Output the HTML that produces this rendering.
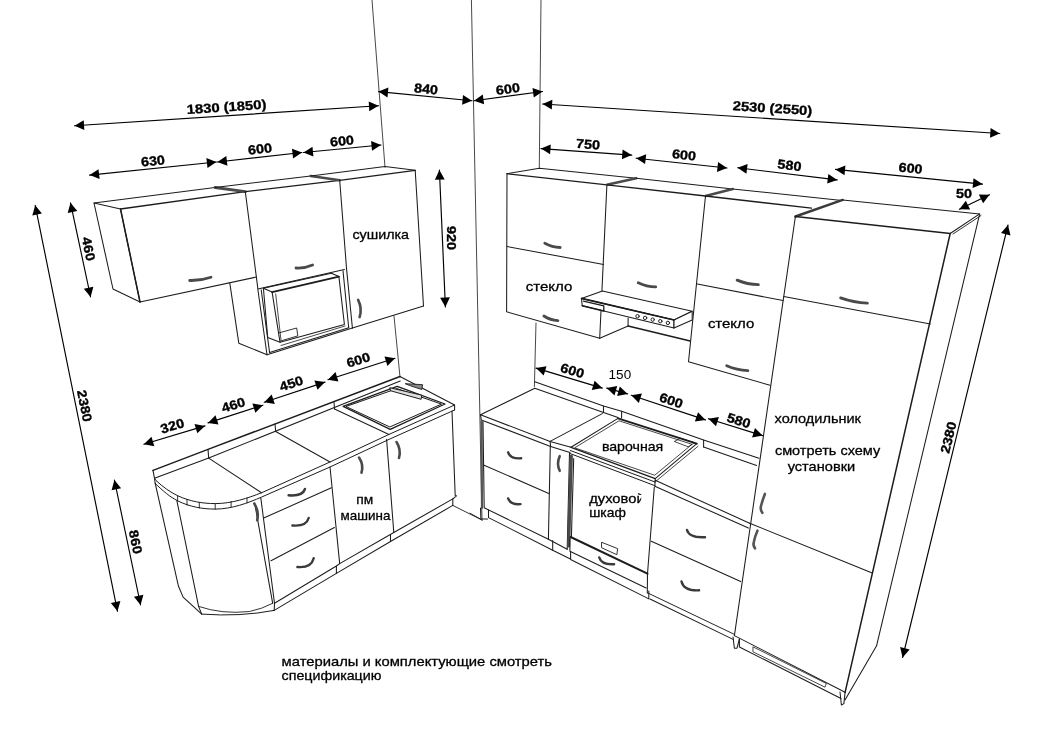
<!DOCTYPE html>
<html><head><meta charset="utf-8"><title>kitchen</title>
<style>
html,body{margin:0;padding:0;background:#fff;}
body{width:1037px;height:735px;overflow:hidden;}
svg{display:block;}
text{font-family:"Liberation Sans",sans-serif;fill:#000;}
text.lb{stroke:#000;stroke-width:0.3px;}
svg{filter:grayscale(1);}
</style></head><body>
<svg width="1037" height="735" viewBox="0 0 1037 735" stroke-linecap="round" stroke-linejoin="round">
<rect width="1037" height="735" fill="#fff"/>
<path d="M372.0 0.0 L385.0 167.0" stroke="#333" stroke-width="0.9" fill="none" />
<path d="M394.0 316.0 L400.0 377.0" stroke="#333" stroke-width="0.9" fill="none" />
<path d="M471.4 0.0 L482.0 520.0" stroke="#333" stroke-width="0.9" fill="none" />
<path d="M541.0 0.0 L539.3 168.0" stroke="#333" stroke-width="0.9" fill="none" />
<path d="M536.0 323.0 L534.4 386.5" stroke="#333" stroke-width="0.9" fill="none" />
<path d="M94.0 203.0 L120.5 209.0 L140.0 302.0 L113.0 289.0 Z" stroke="#1c1c1c" stroke-width="1.05" fill="none" />
<path d="M120.5 209.0 L140.0 302.0" stroke="#1c1c1c" stroke-width="1.5" fill="none" />
<path d="M94.0 203.0 L215.0 187.5" stroke="#1c1c1c" stroke-width="1.05" fill="none" />
<path d="M120.5 209.0 L245.3 191.7" stroke="#1c1c1c" stroke-width="1.3" fill="none" />
<path d="M140.0 302.0 L256.2 277.1" stroke="#1c1c1c" stroke-width="1.05" fill="none" />
<path d="M189.7 280.5 Q200.7 280.8 211.0 277.2" fill="none" stroke="#4a4a4a" stroke-width="2.8"/>
<path d="M215.0 187.5 L245.3 191.7" stroke="#4a4a4a" stroke-width="2.8" fill="none" />
<path d="M215.0 187.5 L310.7 176.0" stroke="#1c1c1c" stroke-width="1.05" fill="none" />
<path d="M245.3 191.7 L339.7 180.3" stroke="#1c1c1c" stroke-width="1.3" fill="none" />
<path d="M245.3 191.7 L257.9 288.9" stroke="#1c1c1c" stroke-width="1.05" fill="none" />
<path d="M257.9 288.9 L344.4 269.4" stroke="#1c1c1c" stroke-width="1.05" fill="none" />
<path d="M296.0 268.0 Q304.7 268.5 312.6 265.0" fill="none" stroke="#4a4a4a" stroke-width="2.8"/>
<path d="M310.7 176.0 L339.7 180.3" stroke="#4a4a4a" stroke-width="2.6" fill="none" />
<path d="M310.7 176.0 L385.0 166.5 L415.2 170.3" stroke="#1c1c1c" stroke-width="1.05" fill="none" />
<path d="M339.7 180.3 L415.2 170.3" stroke="#1c1c1c" stroke-width="1.3" fill="none" />
<path d="M415.2 170.3 L423.5 306.0" stroke="#1c1c1c" stroke-width="1.05" fill="none" />
<path d="M339.7 180.3 L346.6 269.4 L352.4 328.0" stroke="#1c1c1c" stroke-width="1.05" fill="none" />
<path d="M352.4 328.0 L423.5 306.0" stroke="#1c1c1c" stroke-width="1.05" fill="none" />
<path d="M358.1 299.8 Q362.4 308.1 359.6 317.1" fill="none" stroke="#4a4a4a" stroke-width="2.6"/>
<path d="M229.8 283.1 L238.8 343.2 L267.0 354.7" stroke="#1c1c1c" stroke-width="1.05" fill="none" />
<path d="M257.9 289.7 L267.0 354.7" stroke="#1c1c1c" stroke-width="1.05" fill="none" />
<path d="M261.2 289.7 L269.6 352.6" stroke="#1c1c1c" stroke-width="1.05" fill="none" />
<path d="M267.0 354.7 L352.4 328.0" stroke="#1c1c1c" stroke-width="1.05" fill="none" />
<path d="M269.6 352.6 L348.7 327.7" stroke="#1c1c1c" stroke-width="1.05" fill="none" />
<path d="M343.0 270.8 L348.7 327.7" stroke="#1c1c1c" stroke-width="1.05" fill="none" />
<path d="M263.4 288.2 L331.4 273.3 L338.9 276.6" stroke="#1c1c1c" stroke-width="1.05" fill="none" />
<path d="M263.4 288.2 L272.1 292.1" stroke="#1c1c1c" stroke-width="1.05" fill="none" />
<path d="M272.1 292.1 L338.9 276.6" stroke="#1c1c1c" stroke-width="1.8" fill="none" />
<path d="M272.1 292.1 L280.0 342.2 L344.4 324.4 L338.9 276.6" stroke="#1c1c1c" stroke-width="1.05" fill="none" />
<path d="M275.7 294.0 L281.0 340.0" stroke="#1c1c1c" stroke-width="0.8" fill="none" />
<path d="M263.4 288.2 L267.7 337.4 L280.0 342.2" stroke="#1c1c1c" stroke-width="1.05" fill="none" />
<path d="M279.3 332.8 L296.7 328.0 L297.8 335.9 L280.5 341.0" stroke="#1c1c1c" stroke-width="0.9" fill="none" />
<path d="M281.0 345.5 L345.0 326.0" stroke="#1c1c1c" stroke-width="0.8" fill="none" />
<path d="M153.0 470.4 L208.0 449.4 L400.0 376.5" stroke="#1c1c1c" stroke-width="1.5" fill="none" />
<path d="M153.0 470.4 L154.5 478.3" stroke="#1c1c1c" stroke-width="1.05" fill="none" />
<path d="M154.5 478.3 L208.7 458.1 L400.2 381.0" stroke="#1c1c1c" stroke-width="1.05" fill="none" />
<path d="M208.0 449.4 L208.7 458.1" stroke="#1c1c1c" stroke-width="1.05" fill="none" />
<path d="M275.0 424.0 L275.7 431.5" stroke="#1c1c1c" stroke-width="1.05" fill="none" />
<path d="M334.0 402.5 L334.5 409.0" stroke="#1c1c1c" stroke-width="1.05" fill="none" />
<path d="M154.5 478.3 L155.2 483.4" stroke="#1c1c1c" stroke-width="1.05" fill="none" />
<path d="M154.5 478.3 L156 480.5 C163 487 170 492 177.6 495.7 C190 501.5 203 503.6 215.2 503.6 C232 503.6 248 498 261.5 492.8 L330 462 L389 434.4 L454.6 405" stroke="#1c1c1c" stroke-width="1.0" fill="none"/>
<path d="M155.2 483.4 C163 491 170 497 177.6 500.8 C190 507 203 509.1 215.2 509.1 C232 509 248 503 261.5 497.1 L330 467 L389 439.4 L454.6 410" stroke="#1c1c1c" stroke-width="1.0" fill="none"/>
<path d="M177.6 495.7 L177.6 500.8" stroke="#1c1c1c" stroke-width="0.9" fill="none" />
<path d="M187.0 499.5 L187.0 505.0" stroke="#1c1c1c" stroke-width="0.9" fill="none" />
<path d="M199.3 502.5 L199.3 508.0" stroke="#1c1c1c" stroke-width="0.9" fill="none" />
<path d="M215.2 503.6 L215.2 509.1" stroke="#1c1c1c" stroke-width="0.9" fill="none" />
<path d="M231.1 501.5 L231.1 506.8" stroke="#1c1c1c" stroke-width="0.9" fill="none" />
<path d="M247.0 497.9 L247.0 502.9" stroke="#1c1c1c" stroke-width="0.9" fill="none" />
<path d="M400.0 376.5 L454.6 405.0 L454.6 410.0" stroke="#1c1c1c" stroke-width="1.05" fill="none" />
<path d="M208.7 458.1 L261.5 492.8" stroke="#1c1c1c" stroke-width="1.05" fill="none" />
<path d="M275.7 431.5 L330.0 462.0" stroke="#1c1c1c" stroke-width="1.05" fill="none" />
<path d="M334.5 409.0 L389.0 434.4" stroke="#1c1c1c" stroke-width="1.05" fill="none" />
<path d="M343.1 406.3 L397.2 386.3 L445.0 404.0 L390.2 429.4 Z" stroke="#1c1c1c" stroke-width="1.3" fill="none" />
<path d="M346.3 406.4 L397.0 388.6 L441.5 404.1 L390.2 426.8 Z" stroke="#1c1c1c" stroke-width="1.0" fill="none" />
<path d="M390.2 387.8 L421.8 395.2 L421.1 399.3 L390.7 390.8 Z" stroke="#1c1c1c" stroke-width="1.0" fill="#ddd"/>
<path d="M405.6 383.7 L422.6 384.7 L421.8 389.5 L411.0 386.0 Z" stroke="#1c1c1c" stroke-width="0.9" fill="#888"/>
<path d="M155.2 483.4 L178.5 586.3 L183.1 597.1 L201.7 614.1" stroke="#1c1c1c" stroke-width="1.05" fill="none" />
<path d="M176.9 500.8 L198.6 606.4 L201.7 614.1" stroke="#1c1c1c" stroke-width="1.05" fill="none" />
<path d="M201.7 614.1 Q240 617 274.2 610.4" stroke="#1c1c1c" stroke-width="1.0" fill="none"/>
<path d="M198.6 606.4 Q222 614.5 249.5 611.5 Q262 609 272.7 603.3" stroke="#1c1c1c" stroke-width="0.9" fill="none"/>
<path d="M254.6 502.9 L272.7 603.3" stroke="#1c1c1c" stroke-width="1.05" fill="none" />
<path d="M254.3 503.6 Q259.3 511.3 257.2 520.3" fill="none" stroke="#4a4a4a" stroke-width="2.6"/>
<path d="M260.8 497.9 L274.5 603.3 L274.2 610.4" stroke="#1c1c1c" stroke-width="1.05" fill="none" />
<path d="M263.7 518.1 L331.4 487.8" stroke="#1c1c1c" stroke-width="1.05" fill="none" />
<path d="M271.0 560.7 L334.4 527.5" stroke="#1c1c1c" stroke-width="1.05" fill="none" />
<path d="M330.0 467.0 L339.7 563.6" stroke="#1c1c1c" stroke-width="1.05" fill="none" />
<path d="M274.5 603.3 L336.4 566.0 L339.7 563.6" stroke="#1c1c1c" stroke-width="1.05" fill="none" />
<path d="M274.2 610.4 L336.4 573.4" stroke="#1c1c1c" stroke-width="1.05" fill="none" />
<path d="M336.4 566.0 L336.4 573.4" stroke="#1c1c1c" stroke-width="1.05" fill="none" />
<path d="M288.6 495.3 Q302.5 496.5 305 489" stroke="#3a3a3a" stroke-width="2.4" fill="none"/>
<path d="M292.4 525.5 Q306.2 526.7 308.7 518" stroke="#3a3a3a" stroke-width="2.4" fill="none"/>
<path d="M297.4 567 Q311.2 568.2 313.7 558.2" stroke="#3a3a3a" stroke-width="2.4" fill="none"/>
<path d="M339.7 563.6 L393.8 532.5" stroke="#1c1c1c" stroke-width="1.05" fill="none" />
<path d="M336.4 573.4 L390.5 541.5" stroke="#1c1c1c" stroke-width="1.05" fill="none" />
<path d="M390.5 534.9 L390.5 541.5" stroke="#1c1c1c" stroke-width="1.05" fill="none" />
<path d="M359.0 457.5 Q363.8 464.5 361.5 472.7" fill="none" stroke="#4a4a4a" stroke-width="2.6"/>
<path d="M386.6 439.4 L393.8 532.5" stroke="#1c1c1c" stroke-width="1.05" fill="none" />
<path d="M452.0 411.0 L455.2 495.6 L456.5 495.8 L452.8 498.9" stroke="#1c1c1c" stroke-width="1.05" fill="none" />
<path d="M393.8 532.5 L452.8 498.9" stroke="#1c1c1c" stroke-width="1.05" fill="none" />
<path d="M390.5 541.5 L452.8 505.4" stroke="#1c1c1c" stroke-width="1.05" fill="none" />
<path d="M452.8 498.9 L452.8 505.4" stroke="#1c1c1c" stroke-width="1.05" fill="none" />
<path d="M396.5 442.0 Q401.3 449.4 399.0 458.0" fill="none" stroke="#4a4a4a" stroke-width="2.6"/>
<path d="M452.8 505.4 L482.3 520.2" stroke="#1c1c1c" stroke-width="0.9" fill="none" />
<path d="M507.0 173.7 L539.3 168.2 L636.2 178.3" stroke="#1c1c1c" stroke-width="1.05" fill="none" />
<path d="M507.0 173.7 L606.9 184.8" stroke="#1c1c1c" stroke-width="1.3" fill="none" />
<path d="M507.0 173.7 L506.6 311.8 L599.7 338.2" stroke="#1c1c1c" stroke-width="1.05" fill="none" />
<path d="M606.9 184.8 L599.7 338.2" stroke="#1c1c1c" stroke-width="1.05" fill="none" />
<path d="M507.0 246.5 L603.6 264.5" stroke="#1c1c1c" stroke-width="1.05" fill="none" />
<path d="M544.8 243.3 Q552.0 247.3 560.2 247.5" fill="none" stroke="#4a4a4a" stroke-width="2.8"/>
<path d="M543.9 316.0 Q550.3 320.2 557.9 320.6" fill="none" stroke="#4a4a4a" stroke-width="2.8"/>
<path d="M606.9 184.8 L636.2 178.3" stroke="#4a4a4a" stroke-width="2.6" fill="none" />
<path d="M636.2 178.3 L732.7 189.0" stroke="#1c1c1c" stroke-width="1.05" fill="none" />
<path d="M606.9 184.8 L705.5 196.0" stroke="#1c1c1c" stroke-width="1.3" fill="none" />
<path d="M638.2 282.8 Q646.5 286.8 655.7 286.9" fill="none" stroke="#4a4a4a" stroke-width="2.8"/>
<path d="M705.5 196.0 L732.7 189.0" stroke="#4a4a4a" stroke-width="2.6" fill="none" />
<path d="M732.7 189.0 L842.0 200.4" stroke="#1c1c1c" stroke-width="1.05" fill="none" />
<path d="M705.5 196.0 L811.5 208.2" stroke="#1c1c1c" stroke-width="1.3" fill="none" />
<path d="M705.5 196.0 L688.5 361.8 L770.0 385.3" stroke="#1c1c1c" stroke-width="1.05" fill="none" />
<path d="M697.3 284.0 L783.0 300.5" stroke="#1c1c1c" stroke-width="1.05" fill="none" />
<path d="M737.1 280.1 Q747.3 284.4 758.4 284.7" fill="none" stroke="#4a4a4a" stroke-width="2.8"/>
<path d="M726.7 365.7 Q736.8 370.1 747.9 370.6" fill="none" stroke="#4a4a4a" stroke-width="2.8"/>
<path d="M628.1 317.9 L628.1 326.0" stroke="#1c1c1c" stroke-width="1.05" fill="none" />
<path d="M628.1 326.0 L690.2 340.9" stroke="#1c1c1c" stroke-width="1.5" fill="none" />
<path d="M599.7 338.2 L628.1 326.0" stroke="#1c1c1c" stroke-width="1.05" fill="none" />
<path d="M581.5 298.4 L602.4 290.9 L692.2 311.2 L674.0 320.0 Z" stroke="#1c1c1c" stroke-width="1.05" fill="#fff"/>
<path d="M581.5 298.4 L674.0 320.0 L674.0 328.1 L582.2 305.8 Z" stroke="#1c1c1c" stroke-width="1.05" fill="#fff"/>
<path d="M674.0 320.0 L692.2 311.2 L692.2 320.0 L674.0 328.1 Z" stroke="#1c1c1c" stroke-width="1.05" fill="#fff"/>
<path d="M581.5 298.4 L674.0 320.0" stroke="#1c1c1c" stroke-width="1.6" fill="none" />
<path d="M583.5 301.1 L603.8 305.9 L603.8 310.6" stroke="#1c1c1c" stroke-width="1.3" fill="none" />
<path d="M582.2 305.8 L603.8 311.0" stroke="#1c1c1c" stroke-width="1.5" fill="none" />
<circle cx="637.5" cy="316.2" r="1.7" fill="none" stroke="#222" stroke-width="1.0"/>
<circle cx="645.1" cy="317.9" r="1.7" fill="none" stroke="#222" stroke-width="1.0"/>
<circle cx="652.7" cy="319.6" r="1.7" fill="none" stroke="#222" stroke-width="1.0"/>
<circle cx="660.3" cy="321.2" r="1.7" fill="none" stroke="#222" stroke-width="1.0"/>
<circle cx="667.9" cy="322.9" r="1.7" fill="none" stroke="#222" stroke-width="1.0"/>
<path d="M795.4 216.5 L842.7 199.9" stroke="#3a3a3a" stroke-width="2.4" fill="none" />
<path d="M842.7 199.9 L979.7 213.9 L950.2 233.5" stroke="#1c1c1c" stroke-width="1.05" fill="none" />
<path d="M795.4 216.5 L950.2 233.5" stroke="#1c1c1c" stroke-width="1.5" fill="none" />
<path d="M953.0 234.0 L981.0 215.5" stroke="#1c1c1c" stroke-width="0.9" fill="none" />
<path d="M795.4 216.5 L734.4 635.6" stroke="#1c1c1c" stroke-width="1.05" fill="none" />
<path d="M950.2 233.5 L845.1 692.3" stroke="#1c1c1c" stroke-width="1.5" fill="none" />
<path d="M979.7 213.9 L876.6 645.7" stroke="#1c1c1c" stroke-width="1.05" fill="none" />
<path d="M876.6 645.7 L845.0 700.0" stroke="#1c1c1c" stroke-width="1.05" fill="none" />
<path d="M783.7 296.5 L930.3 324.0" stroke="#1c1c1c" stroke-width="1.05" fill="none" />
<path d="M840.6 297.9 Q853.6 302.5 867.4 303.2" fill="none" stroke="#4a4a4a" stroke-width="2.8"/>
<path d="M749.6 523.2 L871.6 572.7" stroke="#1c1c1c" stroke-width="1.05" fill="none" />
<path d="M734.4 635.6 L845.1 692.3" stroke="#1c1c1c" stroke-width="1.05" fill="none" />
<path d="M733.0 637.0 L734.4 648.2 L737.0 648.2 L739.4 639.0" stroke="#1c1c1c" stroke-width="1.05" fill="none" />
<path d="M739.4 639.0 L739.4 647.0 L841.0 698.5" stroke="#1c1c1c" stroke-width="1.05" fill="none" />
<path d="M840.0 692.0 L841.4 705.0 L843.9 703.6 L845.1 692.3" stroke="#1c1c1c" stroke-width="1.05" fill="none" />
<path d="M753.3 647.0 L826.3 683.5 L825.0 687.2 L753.3 652.0 Z" stroke="#1c1c1c" stroke-width="0.8" fill="none" />
<path d="M764.9 493.9 Q762.5 500 761 506 Q760 510 762.4 512.8" stroke="#555" stroke-width="2.6" fill="none"/>
<path d="M757.5 530.6 Q755 536.5 753.8 542 Q752.8 545.5 755.1 548.3" stroke="#555" stroke-width="2.6" fill="none"/>
<path d="M534.8 381.8 L603.5 405.9 L621.6 411.2 L703.6 440.1 L759.0 458.2" stroke="#1c1c1c" stroke-width="1.05" fill="none" />
<path d="M534.8 388.3 L603.5 412.4 L618.0 417.5" stroke="#1c1c1c" stroke-width="1.05" fill="none" />
<path d="M603.5 405.9 L603.5 412.4" stroke="#1c1c1c" stroke-width="1.05" fill="none" />
<path d="M621.6 411.2 L621.6 418.0" stroke="#1c1c1c" stroke-width="1.05" fill="none" />
<path d="M703.6 440.1 L703.6 447.0" stroke="#1c1c1c" stroke-width="1.05" fill="none" />
<path d="M703.6 447.0 L756.6 465.4" stroke="#1c1c1c" stroke-width="1.05" fill="none" />
<path d="M534.8 388.3 L480.5 414.8 L550.1 441.4 L602.3 413.6" stroke="#1c1c1c" stroke-width="1.05" fill="none" />
<path d="M480.5 414.8 L481.3 420.0 L550.6 446.4 L550.1 441.4" stroke="#1c1c1c" stroke-width="1.05" fill="none" />
<path d="M550.1 441.4 L571.0 447.3" stroke="#1c1c1c" stroke-width="1.05" fill="none" />
<path d="M550.6 446.4 L570.0 452.5" stroke="#1c1c1c" stroke-width="1.05" fill="none" />
<path d="M571.0 447.3 L618.0 418.4" stroke="#1c1c1c" stroke-width="1.05" fill="none" />
<path d="M618.0 418.4 L696.8 443.7" stroke="#1c1c1c" stroke-width="1.8" fill="none" />
<path d="M696.8 443.7 L655.2 478.6" stroke="#1c1c1c" stroke-width="1.05" fill="none" />
<path d="M571.0 447.3 L655.2 478.6" stroke="#1c1c1c" stroke-width="1.4" fill="none" />
<path d="M575.0 447.6 L619.0 420.8 L692.0 444.3 L655.0 475.0 Z" stroke="#1c1c1c" stroke-width="0.8" fill="none" />
<path d="M570.3 450.5 L655.0 482.0" stroke="#1c1c1c" stroke-width="1.0" fill="none" />
<path d="M570.0 453.5 L654.9 485.7" stroke="#1c1c1c" stroke-width="1.0" fill="none" />
<path d="M655.2 478.6 L654.9 485.7" stroke="#1c1c1c" stroke-width="1.05" fill="none" />
<path d="M655.0 482.0 L698.0 446.3" stroke="#1c1c1c" stroke-width="0.8" fill="none" />
<path d="M674.6 441.3 L680.7 438.2 L694.5 442.8 L688.5 446.6 Z" stroke="#1c1c1c" stroke-width="0.8" fill="none" />
<path d="M655.2 480.3 L749.6 523.2" stroke="#1c1c1c" stroke-width="1.05" fill="none" />
<path d="M654.9 486.2 L748.4 528.1" stroke="#1c1c1c" stroke-width="1.05" fill="none" />
<path d="M481.5 421.0 L482.0 508.0" stroke="#555" stroke-width="2.2" fill="none" />
<path d="M483.0 421.8 L484.2 507.8 L548.4 539.3" stroke="#1c1c1c" stroke-width="1.05" fill="none" />
<path d="M483.5 464.9 L548.8 493.6" stroke="#1c1c1c" stroke-width="1.05" fill="none" />
<path d="M550.3 446.4 L548.4 539.3" stroke="#1c1c1c" stroke-width="1.05" fill="none" />
<path d="M480.5 508.0 L480.9 519.0 L487.5 519.0" stroke="#1c1c1c" stroke-width="1.05" fill="none" />
<path d="M488.5 510.0 L488.5 517.6 L552.7 550.2" stroke="#1c1c1c" stroke-width="1.05" fill="none" />
<path d="M508.1 452.3 Q510.3 459.1 521.2 458.3" stroke="#3a3a3a" stroke-width="2.4" fill="none"/>
<path d="M508.1 498.4 Q510.3 504.9 520.5 504.1" stroke="#3a3a3a" stroke-width="2.4" fill="none"/>
<path d="M569.5 453.0 L567.2 549.3" stroke="#1c1c1c" stroke-width="1.05" fill="none" />
<path d="M548.4 539.3 L567.2 549.3" stroke="#1c1c1c" stroke-width="1.05" fill="none" />
<path d="M552.7 540.5 L552.7 550.2 L569.9 558.8" stroke="#1c1c1c" stroke-width="1.05" fill="none" />
<path d="M559.7 456.2 Q556.4 463.5 559.7 470.8" fill="none" stroke="#4a4a4a" stroke-width="2.6"/>
<path d="M571.3 456.0 L568.6 546.0" stroke="#4a4a4a" stroke-width="3.2" fill="none" />
<path d="M573.7 458.6 L571.4 537.1" stroke="#1c1c1c" stroke-width="1.05" fill="none" />
<path d="M570.6 537.0 L647.5 573.7" stroke="#1c1c1c" stroke-width="2.0" fill="none" />
<path d="M569.9 538.0 L569.9 551.3 L646.1 588.0" stroke="#1c1c1c" stroke-width="1.05" fill="none" />
<path d="M570.6 552.0 L570.6 559.5 L648.8 598.9 L648.8 591.0" stroke="#1c1c1c" stroke-width="1.05" fill="none" />
<path d="M654.3 487.1 L647.5 573.7 L647.3 592.9" stroke="#1c1c1c" stroke-width="1.05" fill="none" />
<path d="M601.9 542.4 L617.6 548.6 L616.9 554.7 L601.9 547.9 Z" stroke="#1c1c1c" stroke-width="0.9" fill="none" />
<path d="M599.2 557.4 Q601.4 565.0 614.1 564.2" stroke="#3a3a3a" stroke-width="2.4" fill="none"/>
<path d="M651.3 541.3 L740.7 581.5" stroke="#1c1c1c" stroke-width="1.05" fill="none" />
<path d="M647.6 592.9 L734.4 634.4" stroke="#1c1c1c" stroke-width="1.05" fill="none" />
<path d="M650.0 599.0 L733.1 639.4" stroke="#1c1c1c" stroke-width="1.05" fill="none" />
<path d="M687 530 Q689.2 538.0 705 537.2" stroke="#3a3a3a" stroke-width="2.4" fill="none"/>
<path d="M681.5 581.5 Q683.7 591.1 699.1 590.3" stroke="#3a3a3a" stroke-width="2.4" fill="none"/>
<path d="M470.0 513.2 L480.9 519.3" stroke="#1c1c1c" stroke-width="0.9" fill="none" />
<path d="M74.5 125.8 L378.5 105.7" stroke="#000" stroke-width="1.15" fill="none" />
<path d="M74.5 125.8 L83.7 120.3 L84.3 130.1 Z" fill="#000" stroke="none"/>
<path d="M378.5 105.7 L369.3 111.2 L368.7 101.4 Z" fill="#000" stroke="none"/>
<path d="M378.5 91.6 L472.0 100.7" stroke="#000" stroke-width="1.15" fill="none" />
<path d="M378.5 91.6 L388.4 87.6 L387.5 97.4 Z" fill="#000" stroke="none"/>
<path d="M472.0 100.7 L462.1 104.7 L463.0 94.9 Z" fill="#000" stroke="none"/>
<path d="M474.0 100.7 L542.6 91.5" stroke="#000" stroke-width="1.15" fill="none" />
<path d="M474.0 100.7 L482.8 94.6 L484.1 104.3 Z" fill="#000" stroke="none"/>
<path d="M542.6 91.5 L533.8 97.6 L532.5 87.9 Z" fill="#000" stroke="none"/>
<path d="M542.6 104.0 L999.8 133.5" stroke="#000" stroke-width="1.15" fill="none" />
<path d="M542.6 104.0 L552.4 99.7 L551.8 109.5 Z" fill="#000" stroke="none"/>
<path d="M999.8 133.5 L990.0 137.8 L990.6 128.0 Z" fill="#000" stroke="none"/>
<path d="M89.6 175.1 L216.4 162.0" stroke="#000" stroke-width="1.15" fill="none" />
<path d="M89.6 175.1 L98.5 169.2 L99.6 179.0 Z" fill="#000" stroke="none"/>
<path d="M216.4 162.0 L207.5 167.9 L206.4 158.1 Z" fill="#000" stroke="none"/>
<path d="M217.4 162.0 L302.0 152.5" stroke="#000" stroke-width="1.15" fill="none" />
<path d="M217.4 162.0 L226.3 156.1 L227.4 165.8 Z" fill="#000" stroke="none"/>
<path d="M302.0 152.5 L293.1 158.4 L292.0 148.7 Z" fill="#000" stroke="none"/>
<path d="M303.5 152.5 L381.0 145.0" stroke="#000" stroke-width="1.15" fill="none" />
<path d="M303.5 152.5 L312.5 146.7 L313.4 156.5 Z" fill="#000" stroke="none"/>
<path d="M381.0 145.0 L372.0 150.8 L371.1 141.0 Z" fill="#000" stroke="none"/>
<path d="M439.4 170.1 L445.4 307.0" stroke="#000" stroke-width="1.15" fill="none" />
<path d="M439.4 170.1 L444.7 179.4 L434.9 179.8 Z" fill="#000" stroke="none"/>
<path d="M445.4 307.0 L440.1 297.7 L449.9 297.3 Z" fill="#000" stroke="none"/>
<path d="M70.5 202.8 L90.6 297.0" stroke="#000" stroke-width="1.15" fill="none" />
<path d="M70.5 202.8 L77.3 211.1 L67.7 213.1 Z" fill="#000" stroke="none"/>
<path d="M90.6 297.0 L83.8 288.7 L93.4 286.7 Z" fill="#000" stroke="none"/>
<path d="M35.2 205.3 L117.5 611.3" stroke="#000" stroke-width="1.15" fill="none" />
<path d="M35.2 205.3 L41.9 213.6 L32.3 215.6 Z" fill="#000" stroke="none"/>
<path d="M117.5 611.3 L110.8 603.0 L120.4 601.0 Z" fill="#000" stroke="none"/>
<path d="M114.4 480.0 L140.6 605.0" stroke="#000" stroke-width="1.15" fill="none" />
<path d="M114.4 480.0 L121.1 488.3 L111.6 490.3 Z" fill="#000" stroke="none"/>
<path d="M140.6 605.0 L133.9 596.7 L143.4 594.7 Z" fill="#000" stroke="none"/>
<path d="M143.8 444.2 L205.0 425.9" stroke="#000" stroke-width="1.15" fill="none" />
<path d="M143.8 444.2 L151.5 436.8 L154.3 446.2 Z" fill="#000" stroke="none"/>
<path d="M205.0 425.9 L197.3 433.3 L194.5 423.9 Z" fill="#000" stroke="none"/>
<path d="M208.0 422.9 L262.9 405.2" stroke="#000" stroke-width="1.15" fill="none" />
<path d="M208.0 422.9 L215.5 415.3 L218.5 424.6 Z" fill="#000" stroke="none"/>
<path d="M262.9 405.2 L255.4 412.8 L252.4 403.5 Z" fill="#000" stroke="none"/>
<path d="M264.2 402.2 L325.0 382.1" stroke="#000" stroke-width="1.15" fill="none" />
<path d="M264.2 402.2 L271.7 394.6 L274.8 403.9 Z" fill="#000" stroke="none"/>
<path d="M325.0 382.1 L317.5 389.7 L314.4 380.4 Z" fill="#000" stroke="none"/>
<path d="M327.9 379.7 L395.0 358.3" stroke="#000" stroke-width="1.15" fill="none" />
<path d="M327.9 379.7 L335.5 372.1 L338.4 381.5 Z" fill="#000" stroke="none"/>
<path d="M395.0 358.3 L387.4 365.9 L384.5 356.5 Z" fill="#000" stroke="none"/>
<path d="M541.0 148.6 L631.7 155.1" stroke="#000" stroke-width="1.15" fill="none" />
<path d="M541.0 148.6 L550.8 144.4 L550.1 154.2 Z" fill="#000" stroke="none"/>
<path d="M631.7 155.1 L621.9 159.3 L622.6 149.5 Z" fill="#000" stroke="none"/>
<path d="M636.2 158.2 L727.0 168.0" stroke="#000" stroke-width="1.15" fill="none" />
<path d="M636.2 158.2 L646.2 154.3 L645.1 164.1 Z" fill="#000" stroke="none"/>
<path d="M727.0 168.0 L717.0 171.9 L718.1 162.1 Z" fill="#000" stroke="none"/>
<path d="M737.6 167.8 L837.2 179.9" stroke="#000" stroke-width="1.15" fill="none" />
<path d="M737.6 167.8 L747.6 164.1 L746.4 173.8 Z" fill="#000" stroke="none"/>
<path d="M837.2 179.9 L827.2 183.6 L828.4 173.9 Z" fill="#000" stroke="none"/>
<path d="M835.5 169.4 L982.5 184.1" stroke="#000" stroke-width="1.15" fill="none" />
<path d="M835.5 169.4 L845.4 165.5 L844.5 175.2 Z" fill="#000" stroke="none"/>
<path d="M982.5 184.1 L972.6 188.0 L973.5 178.3 Z" fill="#000" stroke="none"/>
<path d="M959.4 209.3 L989.5 194.7" stroke="#000" stroke-width="1.15" fill="none" />
<path d="M959.4 209.3 L965.8 200.7 L970.1 209.6 Z" fill="#000" stroke="none"/>
<path d="M989.5 194.7 L983.1 203.3 L978.8 194.4 Z" fill="#000" stroke="none"/>
<path d="M1008.0 225.0 L902.6 657.5" stroke="#000" stroke-width="1.15" fill="none" />
<path d="M1008.0 225.0 L1010.5 235.4 L1001.0 233.1 Z" fill="#000" stroke="none"/>
<path d="M902.6 657.5 L900.1 647.1 L909.6 649.4 Z" fill="#000" stroke="none"/>
<path d="M536.0 368.1 L602.3 388.1" stroke="#000" stroke-width="1.15" fill="none" />
<path d="M536.0 368.1 L546.5 366.2 L543.7 375.5 Z" fill="#000" stroke="none"/>
<path d="M602.3 388.1 L591.8 390.0 L594.6 380.7 Z" fill="#000" stroke="none"/>
<path d="M606.7 388.1 L627.6 393.9" stroke="#000" stroke-width="1.15" fill="none" />
<path d="M606.7 388.1 L617.2 385.9 L614.5 395.4 Z" fill="#000" stroke="none"/>
<path d="M627.6 393.9 L617.1 396.1 L619.8 386.6 Z" fill="#000" stroke="none"/>
<path d="M631.3 395.3 L705.5 419.9" stroke="#000" stroke-width="1.15" fill="none" />
<path d="M631.3 395.3 L641.9 393.6 L638.8 402.9 Z" fill="#000" stroke="none"/>
<path d="M705.5 419.9 L694.9 421.6 L698.0 412.3 Z" fill="#000" stroke="none"/>
<path d="M708.4 418.7 L762.6 435.6" stroke="#000" stroke-width="1.15" fill="none" />
<path d="M708.4 418.7 L718.9 416.9 L716.0 426.2 Z" fill="#000" stroke="none"/>
<path d="M762.6 435.6 L752.1 437.4 L755.0 428.1 Z" fill="#000" stroke="none"/>
<text x="186.7" y="111.4" font-size="13.0" font-weight="bold" stroke="#000" stroke-width="0.35" textLength="79.7" lengthAdjust="spacingAndGlyphs" transform="rotate(-3.8 226.5 107.5)">1830 (1850)</text>
<text x="414.0" y="93.4" font-size="13.0" font-weight="bold" stroke="#000" stroke-width="0.35" textLength="24.0" lengthAdjust="spacingAndGlyphs" transform="rotate(5.5 426.0 89.5)">840</text>
<text x="496.0" y="93.4" font-size="13.0" font-weight="bold" stroke="#000" stroke-width="0.35" textLength="24.0" lengthAdjust="spacingAndGlyphs" transform="rotate(-7.6 508.0 89.5)">600</text>
<text x="732.6" y="112.7" font-size="13.0" font-weight="bold" stroke="#000" stroke-width="0.35" textLength="79.7" lengthAdjust="spacingAndGlyphs" transform="rotate(3.7 772.5 108.8)">2530 (2550)</text>
<text x="141.0" y="165.4" font-size="13.0" font-weight="bold" stroke="#000" stroke-width="0.35" textLength="24.0" lengthAdjust="spacingAndGlyphs" transform="rotate(-5.9 153.0 161.5)">630</text>
<text x="248.0" y="153.4" font-size="13.0" font-weight="bold" stroke="#000" stroke-width="0.35" textLength="24.0" lengthAdjust="spacingAndGlyphs" transform="rotate(-6.4 260.0 149.5)">600</text>
<text x="330.0" y="145.4" font-size="13.0" font-weight="bold" stroke="#000" stroke-width="0.35" textLength="24.0" lengthAdjust="spacingAndGlyphs" transform="rotate(-5.5 342.0 141.5)">600</text>
<text x="439.0" y="241.9" font-size="13.0" font-weight="bold" stroke="#000" stroke-width="0.35" textLength="24.0" lengthAdjust="spacingAndGlyphs" transform="rotate(90 451.0 238.0)">920</text>
<text x="76.0" y="252.9" font-size="13.0" font-weight="bold" stroke="#000" stroke-width="0.35" textLength="24.0" lengthAdjust="spacingAndGlyphs" transform="rotate(78 88.0 249.0)">460</text>
<text x="68.0" y="409.9" font-size="13.0" font-weight="bold" stroke="#000" stroke-width="0.35" textLength="32.0" lengthAdjust="spacingAndGlyphs" transform="rotate(78.5 84.0 406.0)">2380</text>
<text x="123.0" y="545.9" font-size="13.0" font-weight="bold" stroke="#000" stroke-width="0.35" textLength="24.0" lengthAdjust="spacingAndGlyphs" transform="rotate(78 135.0 542.0)">860</text>
<text x="160.5" y="430.4" font-size="13.0" font-weight="bold" stroke="#000" stroke-width="0.35" textLength="24.0" lengthAdjust="spacingAndGlyphs" transform="rotate(-16.6 172.5 426.5)">320</text>
<text x="221.5" y="409.4" font-size="13.0" font-weight="bold" stroke="#000" stroke-width="0.35" textLength="24.0" lengthAdjust="spacingAndGlyphs" transform="rotate(-17.8 233.5 405.5)">460</text>
<text x="279.5" y="387.9" font-size="13.0" font-weight="bold" stroke="#000" stroke-width="0.35" textLength="24.0" lengthAdjust="spacingAndGlyphs" transform="rotate(-18.3 291.5 384.0)">450</text>
<text x="346.5" y="364.4" font-size="13.0" font-weight="bold" stroke="#000" stroke-width="0.35" textLength="24.0" lengthAdjust="spacingAndGlyphs" transform="rotate(-17.7 358.5 360.5)">600</text>
<text x="576.0" y="148.7" font-size="13.0" font-weight="bold" stroke="#000" stroke-width="0.35" textLength="24.0" lengthAdjust="spacingAndGlyphs" transform="rotate(4.1 588.0 144.8)">750</text>
<text x="672.0" y="159.4" font-size="13.0" font-weight="bold" stroke="#000" stroke-width="0.35" textLength="24.0" lengthAdjust="spacingAndGlyphs" transform="rotate(6.2 684.0 155.5)">600</text>
<text x="777.5" y="169.7" font-size="13.0" font-weight="bold" stroke="#000" stroke-width="0.35" textLength="24.0" lengthAdjust="spacingAndGlyphs" transform="rotate(6.9 789.5 165.8)">580</text>
<text x="898.5" y="172.7" font-size="13.0" font-weight="bold" stroke="#000" stroke-width="0.35" textLength="24.0" lengthAdjust="spacingAndGlyphs" transform="rotate(5.7 910.5 168.8)">600</text>
<text x="956.0" y="197.9" font-size="13.0" font-weight="bold" stroke="#000" stroke-width="0.35" textLength="16.0" lengthAdjust="spacingAndGlyphs">50</text>
<text x="933.0" y="441.4" font-size="13.0" font-weight="bold" stroke="#000" stroke-width="0.35" textLength="32.0" lengthAdjust="spacingAndGlyphs" transform="rotate(-76.3 949.0 437.5)">2380</text>
<text x="560.2" y="375.1" font-size="13.0" font-weight="bold" stroke="#000" stroke-width="0.35" textLength="24.0" lengthAdjust="spacingAndGlyphs" transform="rotate(16.8 572.2 371.2)">600</text>
<text x="659.0" y="405.0" font-size="13.0" font-weight="bold" stroke="#000" stroke-width="0.35" textLength="24.0" lengthAdjust="spacingAndGlyphs" transform="rotate(18.3 671.0 401.1)">600</text>
<text x="726.5" y="425.0" font-size="13.0" font-weight="bold" stroke="#000" stroke-width="0.35" textLength="24.0" lengthAdjust="spacingAndGlyphs" transform="rotate(17.3 738.5 421.1)">580</text>
<text x="608.6" y="378.8" font-size="12.1" textLength="22.6" lengthAdjust="spacingAndGlyphs">150</text>
<clipPath id="cl1"><rect x="580" y="490" width="61.2" height="20"/></clipPath>
<text class="lb" x="352.4" y="238.6" font-size="13.5" textLength="56.7" lengthAdjust="spacingAndGlyphs">сушилка</text>
<text class="lb" x="525.7" y="290.5" font-size="13.5" textLength="46.7" lengthAdjust="spacingAndGlyphs">стекло</text>
<text class="lb" x="707.9" y="328.3" font-size="13.5" textLength="46.4" lengthAdjust="spacingAndGlyphs">стекло</text>
<text class="lb" x="356.3" y="503.5" font-size="13.5" textLength="16.9" lengthAdjust="spacingAndGlyphs">пм</text>
<text class="lb" x="340.6" y="519.6" font-size="13.5" textLength="49.8" lengthAdjust="spacingAndGlyphs">машина</text>
<text class="lb" x="601.9" y="450.7" font-size="13.5" textLength="61.4" lengthAdjust="spacingAndGlyphs">варочная</text>
<text class="lb" x="589.2" y="503.1" font-size="13.5" textLength="55.5" lengthAdjust="spacingAndGlyphs" clip-path="url(#cl1)">духовой</text>
<text class="lb" x="589.2" y="517.3" font-size="13.5" textLength="36.7" lengthAdjust="spacingAndGlyphs">шкаф</text>
<text class="lb" x="774.6" y="423.0" font-size="13.5" textLength="86.4" lengthAdjust="spacingAndGlyphs">холодильник</text>
<text class="lb" x="774.9" y="455.1" font-size="13.5" textLength="105.3" lengthAdjust="spacingAndGlyphs">смотреть схему</text>
<text class="lb" x="787.7" y="470.9" font-size="13.5" textLength="67.5" lengthAdjust="spacingAndGlyphs">установки</text>
<text class="lb" x="281.6" y="665.8" font-size="13.5" textLength="270.4" lengthAdjust="spacingAndGlyphs">материалы и комплектующие смотреть</text>
<text class="lb" x="281.6" y="680.3" font-size="13.5" textLength="99.8" lengthAdjust="spacingAndGlyphs">спецификацию</text>
</svg>
</body></html>
